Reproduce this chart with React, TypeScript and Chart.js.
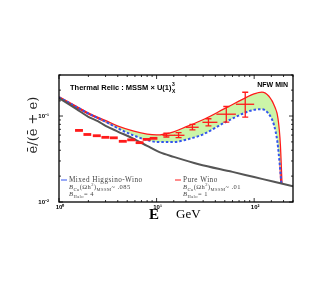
import React, { useEffect, useRef } from "react";
import { Chart, registerables } from "chart.js";
Chart.register(...registerables);

// Curve sampling energies (GeV)
const curveEnergy = [1, 1.5, 2, 3, 4, 5.7, 8, 10, 15, 20, 30, 50, 80, 100, 120, 140, 160, 173, 183, 190];
const pureWino = [0.165, 0.128, 0.107, 0.087, 0.075, 0.066, 0.0605, 0.0592, 0.0645, 0.0735, 0.089, 0.12, 0.158, 0.178, 0.187, 0.168, 0.128, 0.093, 0.046, 0.0165];
const mixedHiggsinoWino = [0.165, 0.128, 0.107, 0.086, 0.072, 0.06, 0.0525, 0.05, 0.0498, 0.053, 0.0613, 0.084, 0.109, 0.118, 0.12, 0.107, 0.078, 0.05, 0.027, 0.0165];

const backgroundEnergy = [1, 1.5, 2, 2.5, 3, 4, 5.7, 8, 10.7, 15, 27, 60, 100, 160, 250];
const background = [0.162, 0.121, 0.098, 0.087, 0.077, 0.066, 0.055, 0.045, 0.038, 0.0335, 0.0275, 0.0224, 0.0195, 0.0172, 0.0152];

// Measured positron fraction
const dataEnergy = [1.6, 1.95, 2.44, 2.98, 3.64, 4.5, 5.5, 6.7, 7.9, 9.3, 12.6, 16.8, 23.3, 34, 51.8, 81];
const dataFraction = [0.068, 0.061, 0.059, 0.0565, 0.0558, 0.0508, 0.0528, 0.049, 0.0535, 0.055, 0.0597, 0.0597, 0.074, 0.0845, 0.105, 0.137];
const dataELow = [1.46, 1.78, 2.22, 2.72, 3.32, 4.1, 5.0, 6.1, 7.2, 8.5, 11.5, 15.2, 20, 29.5, 41, 65];
const dataEHigh = [1.76, 2.14, 2.68, 3.28, 4.0, 4.95, 6.05, 7.35, 8.7, 10.2, 15.4, 19.3, 27, 42, 65, 100];
const dataLow = [0.0675, 0.0605, 0.0585, 0.056, 0.0553, 0.0503, 0.0523, 0.0485, 0.0525, 0.054, 0.057, 0.056, 0.069, 0.077, 0.085, 0.097];
const dataHigh = [0.0685, 0.0615, 0.0595, 0.057, 0.0563, 0.0513, 0.0533, 0.0495, 0.0545, 0.056, 0.063, 0.064, 0.08, 0.093, 0.129, 0.189];

const xMin = 1;
const xMax = 250;
const yMin = 0.01;
const yMax = 0.3;
const xTickLabels = [1, 10, 100];

const SUP: Record<string, string> = { "0": "⁰", "1": "¹", "2": "²", "-": "⁻" };
const powLabel = (v: number) => {
  const l = Math.log10(v);
  const r = Math.round(l);
  if (Math.abs(l - r) > 1e-6) return "";
  return "10" + String(r).split("").map((c) => SUP[c] || c).join("");
};

type Seg = { t: string; m?: "n" | "sub" | "sup"; it?: boolean };
function drawRich(ctx: CanvasRenderingContext2D, segs: Seg[], x: number, y: number, size: number) {
  let cx = x;
  for (const s of segs) {
    const mode = s.m || "n";
    const sz = mode === "n" ? size : size * 0.7;
    ctx.font = `${s.it ? "italic " : ""}${sz}px "Liberation Serif", serif`;
    const dy = mode === "sub" ? size * 0.3 : mode === "sup" ? -size * 0.35 : 0;
    ctx.fillText(s.t, cx, y + dy);
    cx += ctx.measureText(s.t).width;
  }
}

const decorPlugin = {
  id: "decor",
  afterDatasetsDraw(chart: any) {
    const ctx: CanvasRenderingContext2D = chart.ctx;
    const xs = chart.scales.x;
    const ys = chart.scales.y;
    ctx.save();
    ctx.strokeStyle = "#ff1a1a";
    for (let i = 0; i < dataEnergy.length; i++) {
      const px = xs.getPixelForValue(dataEnergy[i]);
      const py = ys.getPixelForValue(dataFraction[i]);
      const x0 = xs.getPixelForValue(dataELow[i]);
      const x1 = xs.getPixelForValue(dataEHigh[i]);
      const yl = ys.getPixelForValue(dataLow[i]);
      const yh = ys.getPixelForValue(dataHigh[i]);
      const big = Math.abs(yl - yh) > 3;
      ctx.lineWidth = big ? 1.3 : 2.8;
      ctx.beginPath();
      ctx.moveTo(x0, py);
      ctx.lineTo(x1, py);
      ctx.stroke();
      if (big) {
        ctx.lineWidth = 1.3;
        ctx.beginPath();
        ctx.moveTo(px, yl);
        ctx.lineTo(px, yh);
        ctx.moveTo(px - 3, yl);
        ctx.lineTo(px + 3, yl);
        ctx.moveTo(px - 3, yh);
        ctx.lineTo(px + 3, yh);
        ctx.stroke();
      }
    }
    ctx.restore();
  },
  afterDraw(chart: any) {
    const ctx: CanvasRenderingContext2D = chart.ctx;
    const a = chart.chartArea;
    const xs = chart.scales.x;
    const ys = chart.scales.y;
    ctx.save();
    // inner ticks
    ctx.strokeStyle = "#000";
    ctx.lineWidth = 0.8;
    for (const t of xs.ticks) {
      const p = xs.getPixelForValue(t.value);
      if (p < a.left || p > a.right) continue;
      const len = powLabel(t.value) ? 4 : 2;
      ctx.beginPath();
      ctx.moveTo(p, a.bottom);
      ctx.lineTo(p, a.bottom - len);
      ctx.moveTo(p, a.top);
      ctx.lineTo(p, a.top + len);
      ctx.stroke();
    }
    for (const t of ys.ticks) {
      const p = ys.getPixelForValue(t.value);
      if (p < a.top || p > a.bottom) continue;
      const len = powLabel(t.value) ? 4 : 2;
      ctx.beginPath();
      ctx.moveTo(a.left, p);
      ctx.lineTo(a.left + len, p);
      ctx.moveTo(a.right, p);
      ctx.lineTo(a.right - len, p);
      ctx.stroke();
    }
    // frame
    ctx.lineWidth = 1.3;
    ctx.strokeRect(a.left, a.top, a.right - a.left, a.bottom - a.top);

    // x tick labels
    ctx.fillStyle = "#000";
    ctx.font = 'bold 6px "Liberation Sans", Arial, sans-serif';
    ctx.textAlign = "center";
    ctx.textBaseline = "top";
    for (const v of xTickLabels) {
      ctx.fillText(powLabel(v), xs.getPixelForValue(v) + 1, a.bottom + 2);
    }

    // title inside
    ctx.textAlign = "left";
    ctx.textBaseline = "alphabetic";
    ctx.font = 'bold 7.5px "Liberation Sans", Arial, sans-serif';
    const title = "Thermal Relic : MSSM × U(1)";
    ctx.fillText(title, 70, 90);
    const tw = ctx.measureText(title).width;
    ctx.font = 'bold 5px "Liberation Sans", Arial, sans-serif';
    ctx.fillText("3", 70 + tw + 0.5, 85.5);
    ctx.fillText("X", 70 + tw + 0.5, 92.5);
    ctx.font = 'bold 7px "Liberation Sans", Arial, sans-serif';
    ctx.textAlign = "right";
    ctx.fillText("NFW MIN", 288, 87);
    ctx.textAlign = "left";

    // legend block
    ctx.lineWidth = 1;
    ctx.strokeStyle = "#3355ee";
    ctx.beginPath();
    ctx.moveTo(61, 180);
    ctx.lineTo(67, 180);
    ctx.stroke();
    ctx.strokeStyle = "#ff1a1a";
    ctx.beginPath();
    ctx.moveTo(175, 180);
    ctx.lineTo(181, 180);
    ctx.stroke();
    ctx.fillStyle = "#444";
    ctx.textBaseline = "middle";
    (ctx as any).letterSpacing = "0.45px";
    drawRich(ctx, [{ t: "Mixed Higgsino-Wino" }], 69, 180, 7.2);
    drawRich(ctx, [{ t: "Pure Wino" }], 183, 180, 7.2);
    drawRich(ctx, [{ t: "B", it: true }, { t: "Cu", m: "sub", it: true }, { t: "(Ωh" }, { t: "2", m: "sup" }, { t: ")" }, { t: "MSSM", m: "sub" }, { t: "~ .085" }], 69, 187.5, 6.5);
    drawRich(ctx, [{ t: "B", it: true }, { t: "Cu", m: "sub", it: true }, { t: "(Ωh" }, { t: "2", m: "sup" }, { t: ")" }, { t: "MSSM", m: "sub" }, { t: "~ .01" }], 183, 187.5, 6.5);
    drawRich(ctx, [{ t: "B", it: true }, { t: "Halo", m: "sub" }, { t: "= 4" }], 69, 194.5, 6.5);
    drawRich(ctx, [{ t: "B", it: true }, { t: "Halo", m: "sub" }, { t: "= 1" }], 183, 194.5, 6.5);
    (ctx as any).letterSpacing = "0px";

    // axis titles
    ctx.fillStyle = "#000";
    ctx.textBaseline = "middle";
    ctx.font = 'bold 15px "Liberation Serif", serif';
    ctx.textAlign = "center";
    ctx.fillText("E", 154, 215);
    ctx.font = '13px "Liberation Serif", serif';
    ctx.textAlign = "left";
    ctx.fillText("GeV", 176, 215);

    ctx.translate(34, 125);
    ctx.rotate(-Math.PI / 2);
    ctx.textAlign = "center";
    ctx.font = '13px "DejaVu Serif", serif';
    ctx.fillStyle = "#222";
    ctx.fillText("ē/(ē + e)", 0, 0);
    ctx.restore();
  },
};

export default function App() {
  const ref = useRef<HTMLCanvasElement | null>(null);
  useEffect(() => {
    if (!ref.current) return;
    const toPts = (xs: number[], ys: number[]) => xs.map((x, i) => ({ x, y: ys[i] }));
    const chart = new Chart(ref.current, {
      type: "line",
      data: {
        datasets: [
          {
            label: "Background",
            data: toPts(backgroundEnergy, background),
            borderColor: "#555555",
            borderWidth: 2,
            pointRadius: 0,
            cubicInterpolationMode: "monotone",
            fill: false,
          },
          {
            label: "Mixed Higgsino-Wino",
            data: toPts(curveEnergy, mixedHiggsinoWino),
            borderColor: "#3355ee",
            borderWidth: 2,
            borderDash: [2.5, 2],
            pointRadius: 0,
            cubicInterpolationMode: "monotone",
            backgroundColor: "#ccf5a8",
            fill: 2,
          },
          {
            label: "Pure Wino",
            data: toPts(curveEnergy, pureWino),
            borderColor: "#ff1a1a",
            borderWidth: 2.5,
            pointRadius: 0,
            cubicInterpolationMode: "monotone",
            fill: false,
          },
        ],
      },
      options: {
        responsive: false,
        animation: false,
        layout: { padding: { left: 0, top: 75, right: 40, bottom: 69 } },
        plugins: { legend: { display: false }, tooltip: { enabled: false } },
        scales: {
          x: {
            type: "logarithmic",
            min: xMin,
            max: xMax,
            grid: { display: false },
            border: { display: false },
            afterFit: (s: any) => {
              s.height = 10;
            },
            ticks: { display: false },
          },
          y: {
            type: "logarithmic",
            min: yMin,
            max: yMax,
            grid: { display: false },
            border: { display: false },
            afterFit: (s: any) => {
              s.width = 59;
            },
            ticks: {
              autoSkip: false,
              padding: 2,
              color: "#000",
              font: { size: 6, weight: "bold", family: '"Liberation Sans", Arial, sans-serif' },
              callback: (v: any) => powLabel(Number(v)),
            },
          },
        },
      } as any,
      plugins: [decorPlugin],
    });
    return () => chart.destroy();
  }, []);
  return (
    <canvas
      ref={ref}
      width={333}
      height={281}
      style={{ position: "absolute", left: 0, top: 0, width: 333, height: 281, display: "block" }}
    />
  );
}
